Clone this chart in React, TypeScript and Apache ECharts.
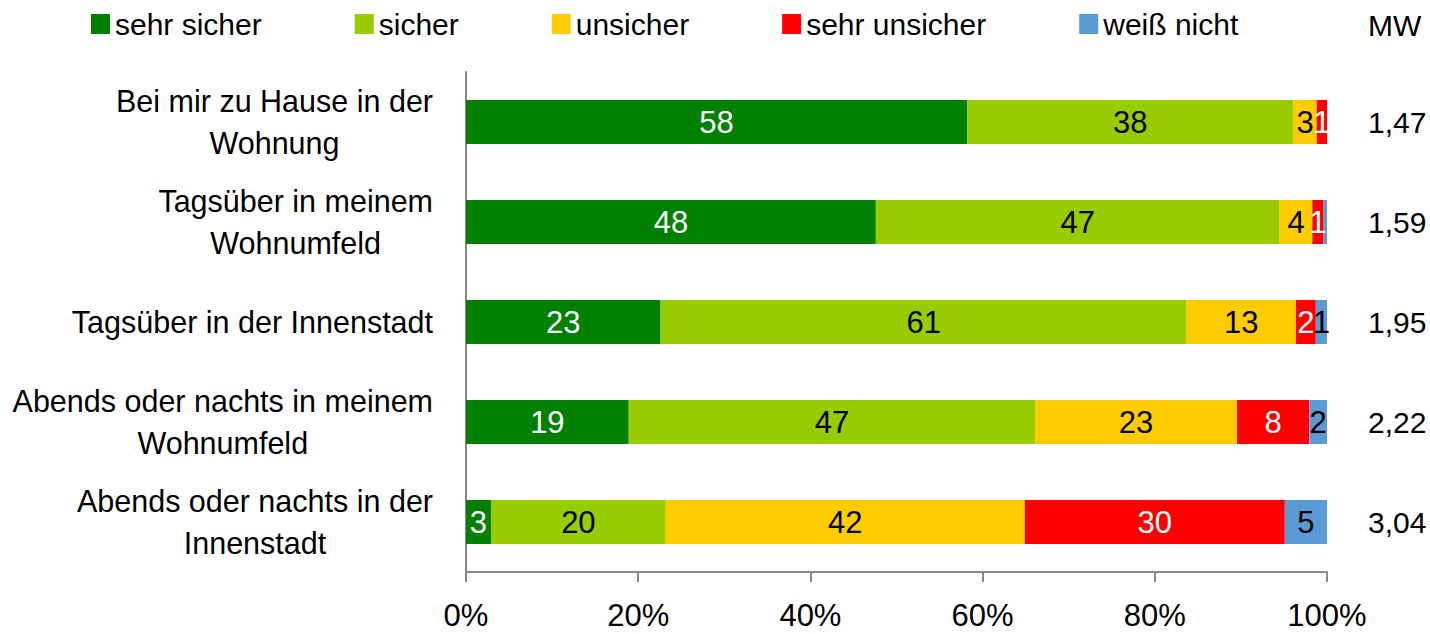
import React, { useEffect, useRef } from "react";
import * as echarts from "echarts";

const categories = [
  "Bei mir zu Hause in der\nWohnung",
  "Tagsüber in meinem\nWohnumfeld",
  "Tagsüber in der Innenstadt",
  "Abends oder nachts in meinem\nWohnumfeld",
  "Abends oder nachts in der\nInnenstadt",
];
const mwValues = ["1,47", "1,59", "1,95", "2,22", "3,04"];
const seriesNames = ["sehr sicher", "sicher", "unsicher", "sehr unsicher", "weiß nicht"];
const sehrSicher = [58.2, 47.6, 22.6, 18.9, 2.9];
const sicher = [37.9, 46.9, 61.1, 47.2, 20.3];
const unsicher = [2.7, 3.8, 12.7, 23.45, 41.7];
const sehrUnsicher = [1.2, 1.3, 2.3, 8.4, 30.2];
const weissNicht = [0, 0.4, 1.3, 2.05, 4.9];
const xTicks = [0, 20, 40, 60, 80, 100];

const colors = ["#008000", "#99CC00", "#FFCC00", "#FF0000", "#5B9BD5"];
const labelColors = ["#ffffff", "#000000", "#000000", "#ffffff", "#000000"];
const FONT = "'Liberation Sans', Arial, sans-serif";

export default function App() {
  const ref = useRef<HTMLDivElement>(null);
  useEffect(() => {
    document.body.style.margin = "0";
    if (!ref.current) return;
    const chart = echarts.init(ref.current, null, { renderer: "svg" });
    const values = [sehrSicher, sicher, unsicher, sehrUnsicher, weissNicht];
    chart.setOption({
      animation: false,
      legend: {
        data: seriesNames,
        left: 91,
        top: 9,
        padding: 0,
        itemWidth: 19,
        itemHeight: 20,
        itemGap: 93,
        icon: "rect",
        textStyle: { fontFamily: FONT, fontSize: 30, color: "#000" },
      },
      graphic: [
        {
          type: "text",
          left: 1368,
          top: 10,
          style: { text: "MW", fontFamily: FONT, fontSize: 30, fill: "#000" },
        },
      ],
      grid: { left: 466, right: 103, top: 72, bottom: 62, outerBoundsMode: "none", containLabel: false },
      xAxis: {
        type: "value",
        min: 0,
        max: 100,
        interval: 20,
        splitLine: { show: false },
        axisLine: { show: true, lineStyle: { color: "#888", width: 2 } },
        axisTick: { show: true, length: 10, lineStyle: { color: "#888", width: 2 } },
        axisLabel: {
          margin: 28,
          fontFamily: FONT,
          fontSize: 31,
          color: "#000",
          formatter: (v: number) => (xTicks.includes(v) ? v + "%" : ""),
        },
      },
      yAxis: [
        {
          type: "category",
          data: categories,
          inverse: true,
          axisLine: { show: true, lineStyle: { color: "#888", width: 2 } },
          axisTick: { show: false },
          axisLabel: {
            margin: 33,
            align: "right",
            formatter: (v: string) =>
              v
                .split("\n")
                .map((l) => "{c|" + l + "}")
                .join("\n"),
            rich: {
              c: {
                align: "center",
                fontFamily: FONT,
                fontSize: 30.5,
                lineHeight: 42,
                color: "#000",
              },
            },
          },
        },
        {
          type: "category",
          data: mwValues,
          inverse: true,
          position: "right",
          axisLine: { show: false },
          axisTick: { show: false },
          axisLabel: {
            margin: 41,
            align: "left",
            fontFamily: FONT,
            fontSize: 30,
            color: "#000",
          },
        },
      ],
      series: seriesNames.map((name, i) => ({
        name,
        type: "bar",
        stack: "total",
        yAxisIndex: 0,
        barWidth: 44,
        data: values[i],
        itemStyle: { color: colors[i] },
        label: {
          show: true,
          position: "inside",
          fontFamily: FONT,
          fontSize: 31,
          color: labelColors[i],
          formatter: (p: any) => (p.value >= 0.5 ? String(Math.round(p.value)) : ""),
        },
      })),
    });
    return () => chart.dispose();
  }, []);
  return <div ref={ref} style={{ width: 1430, height: 634 }} />;
}
